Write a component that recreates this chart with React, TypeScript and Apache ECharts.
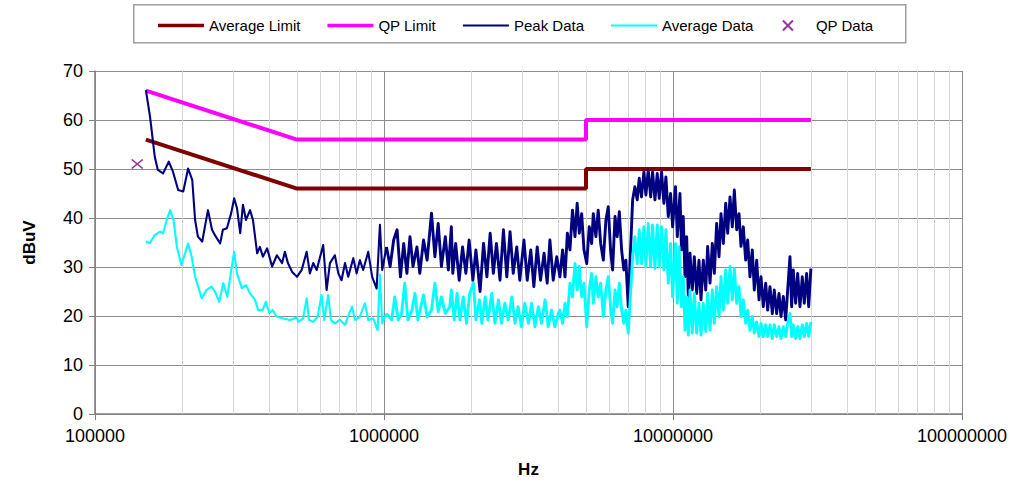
import React, { useEffect, useRef } from "react";
import * as echarts from "echarts";

// Frequencies in MHz, levels in dBuV
const avgLimit: [number, number][] = [[0.15, 56], [0.5, 46], [5, 46], [5, 50], [30, 50]];
const qpLimit: [number, number][] = [[0.15, 66], [0.5, 56], [5, 56], [5, 60], [30, 60]];
const qpData: [number, number][] = [[0.14, 51]];

const peakData: [number, number][] = [
  [0.150, 66.1], [0.155, 60.7], [0.161, 52.5], [0.165, 49.8], [0.172, 49.1], [0.180, 51.5], [0.186, 49.5],
  [0.194, 45.7], [0.202, 45.4], [0.210, 50.1], [0.217, 47.8], [0.222, 39.6], [0.227, 36.2], [0.235, 35.2],
  [0.240, 38.2], [0.246, 41.6], [0.254, 37.6], [0.260, 36.5], [0.271, 34.8], [0.277, 37.6], [0.286, 37.9],
  [0.296, 41.0], [0.303, 44.0], [0.310, 42.0], [0.318, 36.9], [0.325, 42.7], [0.333, 39.6], [0.344, 41.6],
  [0.352, 39.6], [0.364, 32.8], [0.372, 34.1], [0.381, 32.1], [0.394, 33.8], [0.410, 30.1], [0.426, 32.4],
  [0.444, 30.8], [0.454, 33.1], [0.465, 30.8], [0.481, 29.0], [0.500, 28.0], [0.519, 29.4], [0.540, 33.1],
  [0.554, 28.7], [0.569, 30.8], [0.585, 29.4], [0.616, 34.5], [0.633, 25.3], [0.650, 30.8], [0.676, 32.4],
  [0.695, 28.7], [0.713, 27.3], [0.733, 30.8], [0.752, 28.0], [0.783, 31.8], [0.804, 28.7], [0.825, 31.4],
  [0.847, 29.4], [0.882, 33.1], [0.910, 28.0], [0.943, 25.6], [0.968, 38.6], [0.986, 29.4], [1.02, 34.1],
  [1.05, 30.1], [1.08, 35.5], [1.11, 37.6], [1.14, 28.0], [1.17, 34.8], [1.20, 28.7], [1.23, 36.2],
  [1.26, 30.1], [1.30, 34.1], [1.33, 28.7], [1.37, 35.5], [1.41, 31.4], [1.46, 41.0], [1.50, 32.1],
  [1.54, 38.9], [1.58, 30.1], [1.63, 36.2], [1.67, 29.4], [1.71, 38.2], [1.73, 28.7], [1.77, 34.8],
  [1.82, 27.3], [1.87, 34.1], [1.92, 28.7], [1.97, 35.5], [2.03, 27.3], [2.08, 33.5], [2.15, 25.0],
  [2.21, 34.8], [2.27, 28.0], [2.33, 36.9], [2.39, 28.7], [2.45, 34.8], [2.52, 27.3], [2.59, 37.6],
  [2.66, 28.0], [2.73, 37.2], [2.80, 28.7], [2.88, 34.1], [2.95, 27.3], [3.05, 35.5], [3.13, 27.3],
  [3.22, 33.5], [3.30, 26.0], [3.39, 34.1], [3.48, 27.3], [3.58, 32.8], [3.67, 26.7], [3.75, 35.5],
  [3.85, 27.3], [3.96, 32.1], [4.06, 28.0], [4.15, 33.5], [4.23, 28.0], [4.31, 36.9], [4.40, 33.5],
  [4.49, 41.6], [4.58, 36.2], [4.66, 43.0], [4.74, 36.9], [4.83, 40.9], [4.92, 33.5], [5.03, 30.7],
  [5.13, 38.2], [5.23, 34.8], [5.30, 40.9], [5.41, 36.2], [5.51, 41.6], [5.62, 34.8], [5.74, 31.4],
  [5.86, 39.6], [5.97, 42.3], [6.08, 33.5], [6.18, 29.4], [6.30, 40.3], [6.41, 36.2], [6.52, 41.3],
  [6.64, 33.5], [6.76, 29.4], [6.87, 31.4], [7.00, 21.9], [7.13, 33.5], [7.25, 43.7], [7.38, 46.4],
  [7.52, 43.7], [7.64, 48.1], [7.78, 44.3], [7.93, 49.4], [8.06, 44.7], [8.21, 49.8], [8.37, 44.3],
  [8.50, 49.4], [8.66, 43.7], [8.82, 49.1], [8.96, 44.0], [9.13, 49.4], [9.30, 43.0], [9.45, 48.4],
  [9.63, 40.3], [9.81, 45.0], [9.97, 38.2], [10.2, 46.4], [10.35, 36.2], [10.57, 45.0], [10.7, 33.5],
  [10.85, 40.3], [11.0, 28.0], [11.15, 36.2], [11.3, 23.9], [11.45, 32.8], [11.66, 25.3], [11.85, 32.1],
  [12.08, 24.6], [12.3, 31.4], [12.5, 23.3], [12.73, 31.4], [12.98, 25.3], [13.18, 34.2], [13.43, 26.7],
  [13.68, 34.8], [13.9, 28.7], [14.16, 38.9], [14.43, 32.1], [14.66, 40.9], [14.93, 34.8], [15.22, 43.0],
  [15.46, 36.9], [15.75, 44.3], [16.04, 38.2], [16.3, 45.7], [16.61, 37.6], [16.92, 40.9], [17.19, 34.2],
  [17.51, 38.2], [17.84, 31.4], [18.13, 35.5], [18.47, 28.0], [18.81, 33.5], [19.11, 25.3], [19.48, 31.4],
  [19.84, 23.3], [20.16, 28.0], [20.53, 21.9], [20.93, 26.7], [21.26, 21.2], [21.66, 26.0], [22.06, 20.5],
  [22.41, 25.3], [22.84, 20.5], [23.27, 24.6], [23.64, 19.9], [24.08, 24.0], [24.54, 19.2], [24.93, 25.3],
  [25.4, 32.1], [25.74, 21.9], [26.07, 29.4], [26.57, 22.6], [27.0, 28.7], [27.5, 21.9], [28.01, 28.0],
  [28.46, 22.6], [29.0, 28.7], [29.48, 21.9], [30.0, 29.7],
];

const averageData: [number, number][] = [
  [0.150, 35.2], [0.155, 34.9], [0.161, 36.5], [0.168, 37.2], [0.172, 36.9], [0.177, 39.6], [0.182, 41.6],
  [0.187, 39.6], [0.192, 34.1], [0.199, 30.4], [0.205, 32.8], [0.210, 34.8], [0.216, 32.1], [0.222, 28.0],
  [0.234, 23.6], [0.243, 25.3], [0.253, 26.0], [0.260, 25.0], [0.269, 22.9], [0.278, 26.7], [0.287, 23.9],
  [0.295, 28.7], [0.303, 33.1], [0.310, 28.7], [0.322, 25.7], [0.333, 26.3], [0.344, 24.6], [0.358, 23.3],
  [0.367, 21.2], [0.380, 21.2], [0.390, 22.9], [0.401, 20.6], [0.412, 21.2], [0.425, 19.9], [0.448, 19.5],
  [0.473, 19.2], [0.500, 19.7], [0.505, 18.8], [0.525, 19.5], [0.540, 23.6], [0.550, 19.2], [0.569, 18.8],
  [0.589, 19.8], [0.608, 24.3], [0.621, 19.2], [0.641, 24.3], [0.655, 19.2], [0.676, 18.5], [0.704, 19.2],
  [0.733, 18.2], [0.762, 20.9], [0.776, 21.9], [0.793, 19.2], [0.825, 19.8], [0.859, 22.6], [0.882, 19.2],
  [0.918, 19.5], [0.950, 17.1], [0.968, 28.4], [0.986, 18.5], [1.02, 20.5], [1.063, 19.2], [1.09, 23.9],
  [1.12, 19.2], [1.15, 20.5], [1.18, 26.7], [1.21, 19.2], [1.25, 21.2], [1.28, 24.6], [1.31, 19.2],
  [1.37, 24.3], [1.41, 19.8], [1.46, 21.2], [1.50, 26.7], [1.54, 20.9], [1.58, 23.9], [1.63, 20.5],
  [1.69, 21.9], [1.71, 25.3], [1.75, 19.2], [1.79, 24.6], [1.83, 19.2], [1.88, 23.9], [1.93, 18.5],
  [1.98, 24.6], [2.04, 26.7], [2.08, 19.2], [2.14, 23.3], [2.18, 18.5], [2.24, 23.9], [2.29, 19.2],
  [2.36, 24.6], [2.42, 18.5], [2.49, 23.3], [2.55, 18.5], [2.62, 22.6], [2.69, 19.2], [2.77, 23.9],
  [2.84, 18.5], [2.91, 21.9], [2.99, 17.8], [3.07, 22.6], [3.16, 18.5], [3.24, 22.6], [3.33, 17.8],
  [3.42, 21.9], [3.51, 18.5], [3.61, 23.3], [3.70, 17.8], [3.80, 21.2], [3.90, 17.8], [4.01, 20.5],
  [4.06, 21.2], [4.15, 18.5], [4.23, 22.6], [4.31, 19.9], [4.40, 26.7], [4.49, 23.9], [4.58, 30.7],
  [4.66, 25.3], [4.74, 30.1], [4.83, 23.9], [4.92, 26.7], [5.03, 17.8], [5.13, 25.3], [5.23, 28.7],
  [5.30, 22.6], [5.41, 28.0], [5.51, 23.9], [5.62, 26.7], [5.74, 19.9], [5.86, 25.3], [5.97, 28.0],
  [6.08, 21.9], [6.18, 18.5], [6.30, 25.3], [6.41, 21.9], [6.52, 26.7], [6.64, 21.2], [6.76, 18.5],
  [6.87, 21.2], [7.00, 16.5], [7.13, 24.6], [7.25, 32.1], [7.38, 36.2], [7.52, 30.7], [7.64, 37.6],
  [7.78, 30.7], [7.93, 38.2], [8.06, 30.1], [8.21, 38.9], [8.37, 30.1], [8.50, 38.6], [8.66, 29.7],
  [8.82, 38.6], [8.96, 30.1], [9.13, 38.2], [9.30, 29.4], [9.45, 37.6], [9.63, 26.7], [9.81, 34.8],
  [9.97, 23.9], [10.2, 34.8], [10.35, 22.6], [10.5, 34.1], [10.7, 21.9], [10.85, 28.0], [11.0, 17.1],
  [11.15, 23.9], [11.3, 16.1], [11.45, 25.3], [11.66, 16.5], [11.85, 24.6], [12.08, 16.5], [12.3, 22.6],
  [12.5, 16.1], [12.73, 22.6], [12.98, 16.8], [13.18, 24.6], [13.43, 17.1], [13.68, 25.3], [13.9, 18.5],
  [14.16, 26.0], [14.43, 19.9], [14.66, 28.0], [14.93, 21.2], [15.22, 29.4], [15.46, 22.6], [15.75, 30.1],
  [16.04, 23.3], [16.3, 29.7], [16.61, 22.6], [16.92, 26.0], [17.19, 19.9], [17.51, 23.3], [17.84, 18.5],
  [18.13, 21.2], [18.47, 17.1], [18.81, 19.9], [19.11, 16.5], [19.48, 18.8], [19.84, 15.8], [20.16, 18.5],
  [20.53, 15.8], [20.93, 18.2], [21.26, 15.8], [21.66, 18.2], [22.06, 15.4], [22.41, 18.2], [22.84, 15.8],
  [23.27, 17.8], [23.64, 15.4], [24.08, 17.8], [24.54, 15.8], [24.93, 18.5], [25.4, 20.5], [25.74, 15.8],
  [26.07, 18.2], [26.57, 15.4], [27.0, 17.8], [27.5, 15.4], [28.01, 18.2], [28.46, 15.8], [29.0, 18.5],
  [29.48, 15.8], [30.0, 18.8],
];

const xTickValues = [100000, 1000000, 10000000, 100000000];
const yTicks = [0, 10, 20, 30, 40, 50, 60, 70];
const legendNames = ["Average Limit", "QP Limit", "Peak Data", "Average Data", "QP Data"];
// Above this frequency (MHz) the measured traces are dense bands, drawn with a heavier stroke
const bandStartMHz = 1.0;

const toHz = (d: [number, number][]) => d.map(([f, v]) => [f * 1e6, v]);
const lowPart = (d: [number, number][]) => {
  const i = d.findIndex(([f]) => f >= bandStartMHz);
  return d.slice(0, i + 1);
};
const highPart = (d: [number, number][]) => {
  const i = d.findIndex(([f]) => f >= bandStartMHz);
  return d.slice(i);
};

const minorGridValues: number[] = [];
for (let i = 0; i < xTickValues.length - 1; i++) {
  for (let m = 2; m <= 9; m++) minorGridValues.push(xTickValues[i] * m);
}

const FONT = "'Liberation Sans', Arial, sans-serif";
const THICK_ICON = "path://M0,0H50V4H0Z";
const THIN_ICON = "path://M0,0H50V2H0Z";

export default function App() {
  const ref = useRef<HTMLDivElement>(null);
  useEffect(() => {
    if (!ref.current) return;
    const chart = echarts.init(ref.current, undefined, { renderer: "svg" });
    const dataSeries = (name: string, color: string, d: [number, number][], z: number) => [
      {
        name,
        type: "line",
        data: toHz(lowPart(d)),
        symbol: "none",
        lineStyle: { color, width: 2.1, join: "round" },
        itemStyle: { color },
        z,
      },
      {
        name,
        type: "line",
        data: toHz(highPart(d)),
        symbol: "none",
        lineStyle: { color, width: 2.9, join: "round" },
        itemStyle: { color },
        z,
      },
    ];
    chart.setOption({
      animation: false,
      backgroundColor: "#ffffff",
      textStyle: { fontFamily: FONT },
      grid: { left: 95, right: 50, top: 71, bottom: 73 },
      graphic: [
        {
          type: "rect",
          left: 133,
          top: 4,
          shape: { width: 772, height: 38 },
          style: { fill: "#ffffff", stroke: "#a0a0a0", lineWidth: 1.5 },
          z: -1,
        },
      ],
      legend: {
        data: [
          { name: legendNames[0], icon: THICK_ICON },
          { name: legendNames[1], icon: THICK_ICON },
          { name: legendNames[2], icon: THIN_ICON },
          { name: legendNames[3], icon: THIN_ICON },
          { name: legendNames[4] },
        ],
        left: 153,
        top: 13,
        itemWidth: 46,
        itemHeight: 10,
        itemGap: 27,
        textStyle: { fontSize: 15, color: "#000", fontFamily: FONT },
      },
      xAxis: {
        type: "log",
        logBase: 10,
        min: xTickValues[0],
        max: xTickValues[xTickValues.length - 1],
        name: "Hz",
        nameLocation: "middle",
        nameGap: 47,
        nameTextStyle: { fontWeight: "bold", fontSize: 17, color: "#000", fontFamily: FONT },
        axisLine: { lineStyle: { color: "#808080", width: 1.5 } },
        axisTick: { show: true, length: 6, lineStyle: { color: "#808080" } },
        axisLabel: {
          fontSize: 18,
          color: "#000",
          margin: 13,
          showMinLabel: true,
          showMaxLabel: true,
          formatter: (v: number) => String(Math.round(v)),
        },
        splitLine: { show: true, lineStyle: { color: "#8c8c8c", width: 1 } },
      },
      yAxis: {
        type: "value",
        min: yTicks[0],
        max: yTicks[yTicks.length - 1],
        interval: 10,
        name: "dBuV",
        nameLocation: "middle",
        nameGap: 57,
        nameRotate: 90,
        nameTextStyle: { fontWeight: "bold", fontSize: 17, color: "#000", fontFamily: FONT },
        axisLine: { show: true, lineStyle: { color: "#808080", width: 1.5 } },
        axisTick: { show: true, length: 6, lineStyle: { color: "#808080" } },
        axisLabel: { fontSize: 18, color: "#000", margin: 12 },
        splitLine: { show: true, lineStyle: { color: "#8c8c8c", width: 1 } },
      },
      series: [
        {
          name: "Average Limit",
          type: "line",
          data: toHz(avgLimit),
          symbol: "none",
          lineStyle: { color: "#800000", width: 4 },
          itemStyle: { color: "#800000" },
          z: 3,
          markLine: {
            silent: true,
            symbol: "none",
            z: 1,
            label: { show: false },
            lineStyle: { color: "#d6d6d6", width: 1, type: "solid" },
            data: minorGridValues.map((v) => ({ xAxis: v })),
          },
        },
        {
          name: "QP Limit",
          type: "line",
          data: toHz(qpLimit),
          symbol: "none",
          lineStyle: { color: "#ff00ff", width: 4 },
          itemStyle: { color: "#ff00ff" },
          z: 3,
        },
        ...dataSeries("Peak Data", "#000080", peakData, 4),
        ...dataSeries("Average Data", "#00ffff", averageData, 5),
        {
          name: "QP Data",
          type: "scatter",
          data: toHz(qpData),
          symbol: "path://M0,0L10,10M10,0L0,10",
          symbolSize: [11, 9],
          itemStyle: { color: "none", borderColor: "#800080", borderWidth: 1.5 },
          z: 6,
        },
      ],
    });
    return () => chart.dispose();
  }, []);
  return (
    <div
      ref={ref}
      style={{ position: "absolute", left: 0, top: 0, width: 1012, height: 487, background: "#fff" }}
    />
  );
}
